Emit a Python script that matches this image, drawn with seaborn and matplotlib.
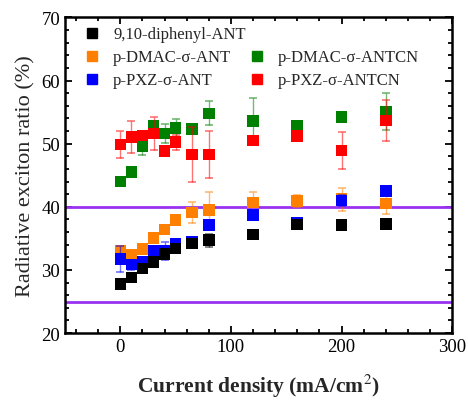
import matplotlib
matplotlib.use('Agg')
import matplotlib.pyplot as plt
import seaborn as sns
from matplotlib.ticker import MultipleLocator
from matplotlib.lines import Line2D

# current density points (mA/cm2)
current = [0, 10, 20, 30, 40, 50, 65, 80, 120, 160, 200, 240]

# radiative exciton ratio (%) for each emitter
diphenyl_ant = [27.8, 28.8, 30.2, 31.3, 32.55, 33.4, 34.2, 34.7, 35.6, 37.2, 37.1, 37.3]
dmac_ant = [33.1, 32.4, 33.35, 35.1, 36.4, 37.9, 39.1, 39.5, 40.7, 40.9, 41.2, 40.5]
pxz_ant = [31.75, 30.85, 31.3, 33.1, 33.0, 34.2, 34.4, 37.1, 38.7, 37.5, 41.0, 42.55]
dmac_antcn = [44.0, 45.5, 49.6, 52.8, 51.6, 52.5, 52.3, 54.8, 53.6, 52.8, 54.2, 55.1]
pxz_antcn = [49.9, 51.05, 51.3, 51.6, 48.8, 50.25, 48.3, 48.3, 50.5, 51.2, 48.9, 53.7]

# error bars
diphenyl_ant_err = [0.3, 0.3, 0.4, 0.4, 0.8, 0.5, 0.5, 1.0, 0.6, 0.5, 0.5, 0.5]
dmac_ant_err = [0.5, 0.5, 0.5, 0.5, 0.5, 0.5, 1.7, 2.8, 1.7, 1.0, 1.8, 1.6]
pxz_ant_err = [2.0, 0.8, 0.5, 0.5, 1.5, 0.5, 0.5, 0.8, 0.5, 0.5, 0.8, 0.6]
dmac_antcn_err = [0.5, 0.5, 1.4, 0.8, 1.5, 1.4, 0.6, 1.9, 3.6, 0.5, 0.5, 2.9]
pxz_antcn_err = [2.1, 2.5, 0.6, 2.6, 0.5, 1.2, 4.4, 3.7, 0.5, 0.5, 2.9, 3.2]

# theoretical limits
limits = [25, 40]

labels = ['9,10-diphenyl-ANT', 'p-DMAC-σ-ANT', 'p-PXZ-σ-ANT', 'p-DMAC-σ-ANTCN', 'p-PXZ-σ-ANTCN']

sns.set_style('ticks')
plt.rcParams['font.family'] = ['Liberation Serif', 'DejaVu Serif']
plt.rcParams['mathtext.fontset'] = 'stix'

fig = plt.figure(figsize=(4.68, 4.02), dpi=100)
ax = fig.add_axes([0.139, 0.169, 0.827, 0.785])

# draw order: green, red, orange, blue, black on top
series = [
    (dmac_antcn, dmac_antcn_err, '#008000', 3),
    (pxz_antcn, pxz_antcn_err, '#ff0000', 4),
    (dmac_ant, dmac_ant_err, '#ff8000', 5),
    (pxz_ant, pxz_ant_err, '#0000ff', 6),
    (diphenyl_ant, diphenyl_ant_err, '#000000', 7),
]
for vals, err, col, z in series:
    ax.errorbar(current, vals, yerr=err, fmt='none', ecolor=col, elinewidth=1,
                capsize=3, capthick=1.2, alpha=0.55, zorder=z)
    sns.scatterplot(x=current, y=vals, marker='s', color=col, s=70,
                    edgecolor='none', ax=ax, zorder=z + 0.5, legend=False)

for lim in limits:
    ax.axhline(lim, color='#9932f0', lw=2, zorder=2)

ax.set_xlim(-50, 300)
ax.set_ylim(20, 70)
ax.xaxis.set_major_locator(MultipleLocator(100))
ax.xaxis.set_minor_locator(MultipleLocator(20))
ax.yaxis.set_major_locator(MultipleLocator(10))
ax.yaxis.set_minor_locator(MultipleLocator(2))
ax.tick_params(which='both', direction='in', top=True, right=True, width=1.3,
               labelsize=13.5, colors='black')
ax.tick_params(which='major', length=5)
ax.tick_params(which='minor', length=3)
for sp in ax.spines.values():
    sp.set_linewidth(1.8)
    sp.set_color('black')

ax.set_xlabel('Current density (mA/cm$^2$)', fontsize=15.5, fontweight='bold', labelpad=12)
ax.set_ylabel('Radiative exciton ratio (%)', fontsize=16, labelpad=4)

# legend: two columns, with an empty slot above the ANTCN entries
cols = ['#000000', '#ff8000', '#0000ff', '#008000', '#ff0000']
handles = [Line2D([], [], ls='none', marker='s', ms=7.5, color=c) for c in cols]
blank = Line2D([], [], ls='none')
ax.legend(handles[:3] + [blank] + handles[3:], labels[:3] + [''] + labels[3:],
          ncol=2, loc='upper left', bbox_to_anchor=(0.031, 0.993), frameon=False,
          fontsize=12, handletextpad=0.76, columnspacing=0.15, labelspacing=0.42,
          borderaxespad=0.0, handlelength=1.0)

fig.savefig('out.png', dpi=100)
